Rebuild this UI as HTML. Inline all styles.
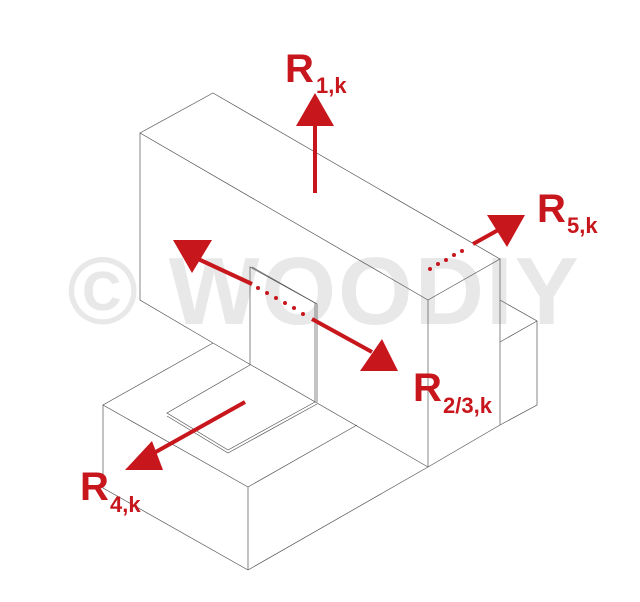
<!DOCTYPE html>
<html><head><meta charset="utf-8"><style>
html,body{margin:0;padding:0;background:#fff;}
svg{display:block;}
</style></head><body>
<svg width="640" height="602" viewBox="0 0 640 602" xmlns="http://www.w3.org/2000/svg">
<rect width="640" height="602" fill="#fff"/>
<text x="324" y="324" text-anchor="middle" font-family="Liberation Sans, sans-serif" font-weight="bold" font-size="96" fill="#e8e8e8" letter-spacing="2">© WOODIY</text>
<g fill="none" stroke="#555" stroke-width="0.7">
<polyline points="140,133 213,93 500,259 428,300 140,133 140,300 213,343"/>
<line x1="428" y1="300" x2="428" y2="467"/>
<line x1="500" y1="259" x2="500" y2="425"/>
<polyline points="500,300 537,321 537,405 500,425 428,467"/>
<line x1="500" y1="342" x2="537" y2="321"/>
<polyline points="213,343 103,405 248,487 357,425"/>
<polyline points="213,343 428,467"/>
<polyline points="103,405 103,488 248,570 428,467"/>
<line x1="248" y1="487" x2="248" y2="570"/>
<polyline points="250,365 250,267 315,303 315,402"/>
<polyline points="252,267 317,304 317,402"/>
<polyline points="250,365 167,413 228,450 315,402"/>
<polyline points="167,416 228,453 317,404"/>
</g>
<g fill="#c8161d" stroke="none">
<rect x="313" y="122" width="4" height="71"/>
<polygon points="315,93 296,126 334,126"/>
<line x1="473" y1="244" x2="500" y2="229" stroke="#c8161d" stroke-width="4"/>
<polygon points="487,215 525,215 507,247"/>
<circle cx="430" cy="269" r="2"/><circle cx="438" cy="264" r="2"/><circle cx="446" cy="260" r="2"/><circle cx="454" cy="255" r="2"/><circle cx="462" cy="251" r="2"/>
<polygon points="173,240 212,240 192,273"/>
<polygon points="398,371 360,371 382,339"/>
<line x1="196" y1="258" x2="252" y2="284" stroke="#c8161d" stroke-width="4"/>
<line x1="312" y1="319" x2="372" y2="352" stroke="#c8161d" stroke-width="4"/>
<circle cx="258" cy="288" r="2"/><circle cx="267" cy="293" r="2"/><circle cx="276" cy="298" r="2"/><circle cx="285" cy="303" r="2"/><circle cx="294" cy="308" r="2"/><circle cx="303" cy="314" r="2"/>
<line x1="245" y1="402" x2="145" y2="458" stroke="#c8161d" stroke-width="4"/>
<polygon points="125,470 163,470 152,441"/>
</g>
<g font-family="Liberation Sans, sans-serif" font-weight="bold" fill="#c8161d">
<text x="285" y="82" font-size="40">R</text><text x="316" y="93" font-size="22">1,k</text>
<text x="537" y="222" font-size="40">R</text><text x="567" y="233" font-size="22">5,k</text>
<text x="413" y="401" font-size="40">R</text><text x="443" y="413" font-size="22">2/3,k</text>
<text x="80" y="500" font-size="40">R</text><text x="110" y="512" font-size="22">4,k</text>
</g>
</svg>
</body></html>
